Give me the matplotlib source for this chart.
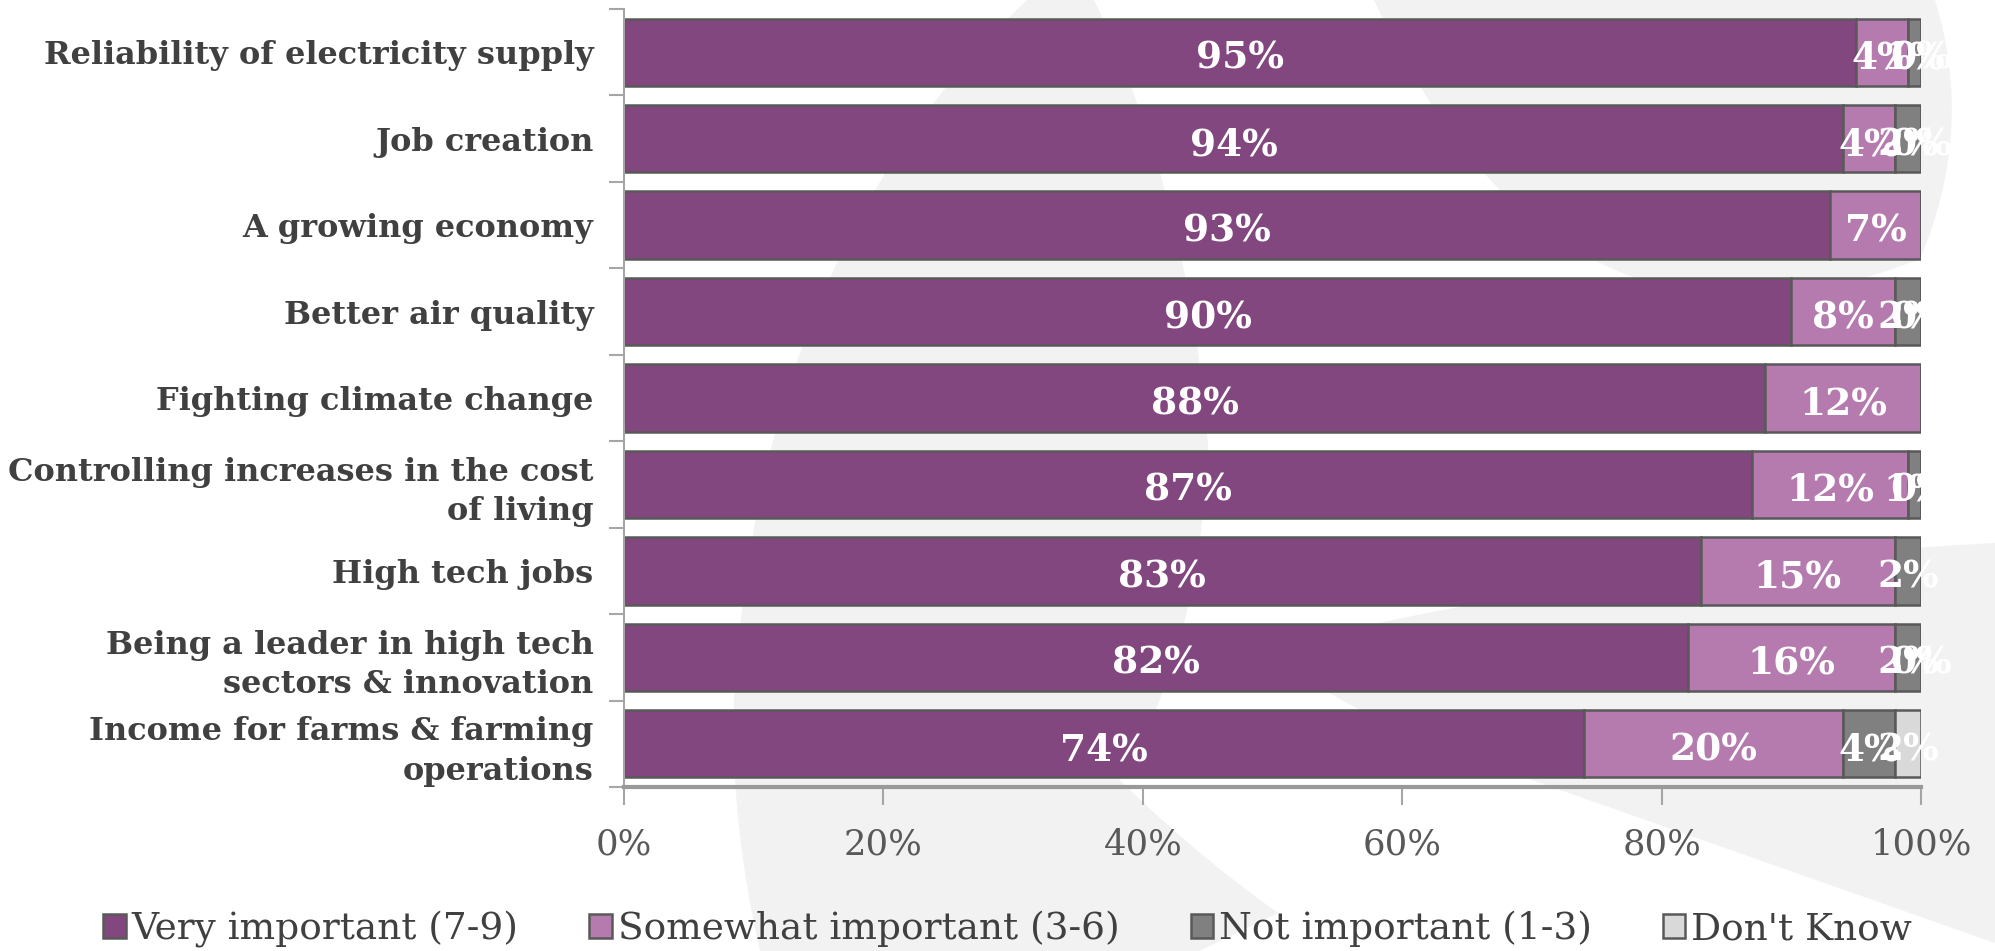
import numpy as np
import matplotlib.pyplot as plt
from matplotlib.path import Path
from matplotlib.patches import PathPatch

# --- datos ---
categorias = [
    "Reliability of electricity supply",
    "Job creation",
    "A growing economy",
    "Better air quality",
    "Fighting climate change",
    "Controlling increases in the cost\nof living",
    "High tech jobs",
    "Being a leader in high tech\nsectors & innovation",
    "Income for farms & farming\noperations",
]
muy_importante = [95, 94, 93, 90, 88, 87, 83, 82, 74]
algo_importante = [4, 4, 7, 8, 12, 12, 15, 16, 20]
no_importante = [1, 2, np.nan, 2, np.nan, 1, 2, 2, 4]
no_sabe = [0, 0, np.nan, 0, np.nan, 0, np.nan, 0, 2]

series = [
    ("Very important (7-9)", muy_importante, "#82477F"),
    ("Somewhat important (3-6)", algo_importante, "#B57BAF"),
    ("Not important (1-3)", no_importante, "#808080"),
    ("Don't Know", no_sabe, "#D9D9D9"),
]

SERIF = "DejaVu Serif"

fig = plt.figure(figsize=(19.95, 9.51), dpi=100)

# marca de agua de fondo (gris muy claro)
bg = fig.add_axes([0, 0, 1, 1], zorder=0)
bg.set_xlim(0, 1995)
bg.set_ylim(951, 0)
bg.axis("off")
M, L, C3 = Path.MOVETO, Path.LINETO, Path.CURVE3
formas = [
    ([(1027, 0), (1094, 0), (1190, 200), (1208, 445), (1200, 650), (1120, 780),
      (1190, 850), (1278, 913), (1199, 951), (760, 951), (730, 820), (734, 700),
      (760, 250), (1027, 0)],
     [M, L, C3, C3, C3, C3, C3, C3, L, L, C3, C3, C3, C3]),
    ([(1374, 0), (1935, 0), (1975, 130), (1920, 259), (1560, 400), (1374, 0)],
     [M, L, C3, C3, C3, C3]),
    ([(1995, 543), (1995, 943), (1532, 780), (1250, 680), (1300, 640),
      (1650, 560), (1995, 543)],
     [M, L, L, C3, C3, C3, C3]),
]
for verts, codes in formas:
    bg.add_patch(PathPatch(Path(verts, codes), facecolor="#F2F2F2", edgecolor="none"))

ax = fig.add_axes([0.3128, 0.1725, 0.6501, 0.8180], zorder=1)
ax.patch.set_alpha(0)

y = np.arange(len(categorias))
izq = np.zeros(len(categorias))
for nombre, valores, color in series:
    v = np.array(valores, dtype=float)
    ancho = np.nan_to_num(v)
    ax.barh(y, ancho, left=izq, height=0.78, color=color, edgecolor="#595959",
            linewidth=1.8, label=nombre)
    for i in range(len(v)):
        if not np.isnan(v[i]):
            ax.text(izq[i] + ancho[i] / 2, y[i] + 0.07, f"{int(v[i])}%",
                    ha="center", va="center", color="white", fontsize=27,
                    fontweight="bold", family=SERIF)
    izq = izq + ancho

ax.set_xlim(0, 100)
ax.set_ylim(len(categorias) - 0.5, -0.5)
ax.set_xticks(np.arange(0, 101, 20))
ax.set_xticklabels([f"{t}%" for t in range(0, 101, 20)], family=SERIF,
                   fontsize=25.5, color="#595959")
ax.set_yticks(y)
ax.set_yticklabels(categorias, family=SERIF, fontsize=23, fontweight="bold",
                   color="#404040", linespacing=1.35)
ax.set_yticks(np.arange(-0.5, len(categorias)), minor=True)
ax.tick_params(axis="y", which="major", length=0, pad=22)
ax.tick_params(axis="y", which="minor", length=11, width=1.5, color="#A6A6A6")
ax.tick_params(axis="x", length=13, width=1.5, color="#A6A6A6", pad=16)

for lado in ["top", "right"]:
    ax.spines[lado].set_visible(False)
ax.spines["left"].set_color("#A6A6A6")
ax.spines["left"].set_linewidth(1.5)
ax.spines["bottom"].set_color("#999999")
ax.spines["bottom"].set_linewidth(3)

leg = fig.legend(loc="lower center", bbox_to_anchor=(0.505, -0.032), ncol=4,
                 frameon=False, prop={"family": SERIF, "size": 27},
                 handlelength=0.6, handleheight=0.6, handletextpad=0.15,
                 columnspacing=1.9)
for t in leg.get_texts():
    t.set_color("#404040")

fig.savefig("out.png", dpi=100)
